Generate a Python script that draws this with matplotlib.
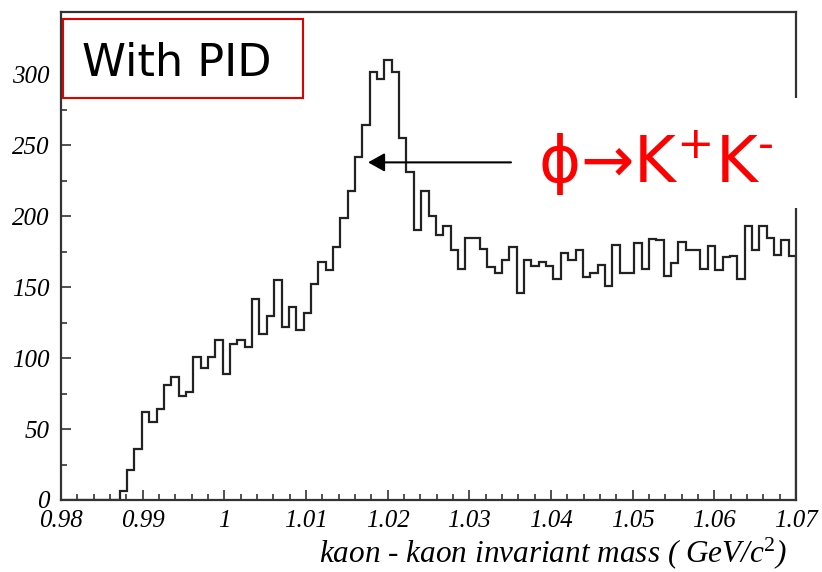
import numpy as np
import matplotlib
matplotlib.use('Agg')
import matplotlib.pyplot as plt
from matplotlib.patches import Rectangle
from matplotlib.ticker import MultipleLocator

# Histogramdata: 100 bins mellan 0.98 och 1.07 GeV
MASS_LO = 0.98
MASS_HI = 1.07
N_BINS = 100
counts = [0, 0, 0, 0, 0, 0, 0, 0,
          6, 21, 36, 62, 55, 64, 81, 87, 73, 76,
          101, 93, 101, 113, 89, 110, 113, 108, 142, 117,
          130, 155, 122, 136, 120, 132, 152, 168, 162, 178,
          199, 218, 242, 264, 302, 297, 310, 302, 255, 231,
          190, 218, 200, 187, 193, 176, 163, 185, 185, 177,
          164, 160, 169, 178, 146, 169, 165, 168, 165, 156,
          174, 169, 176, 157, 160, 166, 151, 180, 160, 160,
          181, 163, 184, 183, 158, 167, 182, 176, 176, 163,
          179, 162, 171, 172, 156, 193, 176, 193, 185, 173,
          183, 172]

x_ticks = [0.98, 0.99, 1.00, 1.01, 1.02, 1.03, 1.04, 1.05, 1.06, 1.07]
x_ticklabels = ['0.98', '0.99', '1', '1.01', '1.02', '1.03', '1.04', '1.05', '1.06', '1.07']
y_ticks = [0, 50, 100, 150, 200, 250, 300]
Y_MAX = 344

# Pil mot phi-toppen
ARROW_TIP = (1.0176, 238)
ARROW_TAIL = (1.0351, 238)

plt.rcParams['font.family'] = 'Liberation Serif'
plt.rcParams['mathtext.fontset'] = 'custom'
plt.rcParams['mathtext.rm'] = 'Liberation Serif'
plt.rcParams['mathtext.it'] = 'Liberation Serif:italic'

edges = np.linspace(MASS_LO, MASS_HI, N_BINS + 1)

fig = plt.figure(figsize=(8.22, 5.72), dpi=100)
ax = fig.add_axes([0.0742, 0.1259, 0.8942, 0.8531])

ax.stairs(counts, edges, color='#222222', lw=1.6, zorder=2)

ax.set_xlim(MASS_LO, MASS_HI)
ax.set_ylim(0, Y_MAX)
ax.set_xticks(x_ticks)
ax.set_xticklabels(x_ticklabels, fontstyle='italic', fontsize=18)
ax.set_yticks(y_ticks)
ax.set_yticklabels([str(v) for v in y_ticks], fontstyle='italic', fontsize=18)
ax.xaxis.set_minor_locator(MultipleLocator(0.002))
ax.yaxis.set_minor_locator(MultipleLocator(25))
ax.tick_params(which='both', direction='in', top=False, right=False, color='#333333', width=1.2)
ax.tick_params(which='major', length=7)
ax.tick_params(which='minor', length=4)
ax.tick_params(axis='y', pad=8)
ax.tick_params(axis='x', pad=7)
for sp in ax.spines.values():
    sp.set_color('#333333')
    sp.set_linewidth(1.6)

ax.set_xlabel('kaon - kaon invariant mass ( GeV/c$^{2}$)', fontstyle='italic',
              fontsize=22.5, ha='right', va='baseline')
ax.xaxis.set_label_coords(0.987, -0.127)

# "With PID"-ruta
ax.add_patch(Rectangle((0.0023, 0.824), 0.327, 0.1617, transform=ax.transAxes,
                       facecolor='white', edgecolor='#e00000', lw=1.5, zorder=5))
ax.text(0.028, 0.869, 'With PID', transform=ax.transAxes, fontsize=32,
        family='DejaVu Sans', fontstyle='normal', va='baseline', zorder=6)

ax.annotate('', xy=ARROW_TIP, xytext=ARROW_TAIL,
            arrowprops=dict(arrowstyle='-|>,head_length=0.5,head_width=0.28',
                            mutation_scale=20, lw=1.5, color='black',
                            shrinkA=0, shrinkB=0), zorder=4)

# Vit ruta bakom reaktionstexten (täcker högerkanten)
fig.patches.append(Rectangle((0.6253, 0.6364), 0.3747, 0.1923, transform=fig.transFigure,
                             facecolor='white', edgecolor='none', zorder=5))
fig.text(0.6545, 0.68, '\u03d5\u2192K$^{+}$K$^{\u2010}$', color='#ff0000', fontsize=46,
         family='DejaVu Sans', fontstyle='normal', va='baseline', zorder=6,
         math_fontfamily='dejavusans')

fig.savefig('out.png', dpi=100)
